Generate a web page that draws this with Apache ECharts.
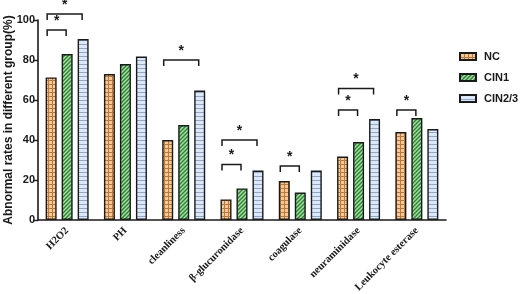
<!DOCTYPE html>
<html>
<head>
<meta charset="utf-8">
<script src="https://cdn.jsdelivr.net/npm/echarts@6/dist/echarts.min.js"></script>
<style>
html,body{margin:0;padding:0;background:#fff;}
#chart{width:520px;height:294px;}
</style>
</head>
<body>
<div id="chart"></div>
<script>
// ---- data ----
var categories = ['H2O2', 'PH', 'cleanliness', 'β-glucuronidase', 'coagulase', 'neuraminidase', 'Leukocyte esterase'];
var seriesNames = ['NC', 'CIN1', 'CIN2/3'];
var ncValues   = [71.3, 73.0, 40.0, 10.3, 19.5, 31.7, 44.0];
var cin1Values = [83.0, 78.0, 47.5, 15.8, 13.7, 39.0, 51.0];
var cin23Values= [90.5, 81.7, 64.7, 24.7, 24.7, 50.5, 45.5];
var yTicks = [0, 20, 40, 60, 80, 100];
// significance brackets: [categoryIndex, fromSeries, toSeries, level]
var brackets = [
  [0, 0, 1, 95],
  [0, 0, 2, 103],
  [2, 0, 2, 80],
  [3, 0, 1, 27.8],
  [3, 0, 2, 40],
  [4, 0, 1, 27],
  [5, 0, 1, 55],
  [5, 0, 2, 65.7],
  [6, 0, 1, 55]
];

// ---- patterns ----
function makePattern(kind) {
  var c = document.createElement('canvas');
  var ctx = c.getContext('2d');
  if (kind === 'grid') {
    c.width = 4; c.height = 4;
    ctx.fillStyle = '#f7c891'; ctx.fillRect(0, 0, 4, 4);
    ctx.fillStyle = '#b87a42';
    ctx.fillRect(0, 0, 4, 1); ctx.fillRect(0, 0, 1, 4);
  } else if (kind === 'diag') {
    c.width = 4; c.height = 4;
    ctx.fillStyle = '#a3e2a0'; ctx.fillRect(0, 0, 4, 4);
    ctx.strokeStyle = '#2f7f36'; ctx.lineWidth = 1.4;
    ctx.beginPath();
    ctx.moveTo(-1, 5); ctx.lineTo(5, -1);
    ctx.moveTo(-1, 1); ctx.lineTo(1, -1);
    ctx.moveTo(3, 5); ctx.lineTo(5, 3);
    ctx.stroke();
  } else {
    c.width = 4; c.height = 4;
    ctx.fillStyle = '#dde8f7'; ctx.fillRect(0, 0, 4, 4);
    ctx.fillStyle = '#8ea7cc';
    ctx.fillRect(0, 0, 4, 1);
  }
  return { image: c, repeat: 'repeat' };
}
var patterns = [makePattern('grid'), makePattern('diag'), makePattern('hline')];
var seriesData = [ncValues, cin1Values, cin23Values];

var BAR_W = 11, BAR_GAP = 5;

var chart = echarts.init(document.getElementById('chart'), null, { renderer: 'canvas' });

var barSeries = seriesNames.map(function (n, i) {
  return {
    name: n,
    type: 'bar',
    data: seriesData[i],
    barWidth: BAR_W,
    barGap: (BAR_GAP / BAR_W * 100) + '%',
    itemStyle: { color: patterns[i], borderColor: '#1a1a1a', borderWidth: 1.4 },
    emphasis: { disabled: true }
  };
});

var bracketSeries = {
  type: 'custom',
  name: 'sig',
  silent: true,
  clip: false,
  z: 5,
  encode: { x: 0, y: 3 },
  data: brackets,
  renderItem: function (params, api) {
    var cat = api.value(0), s1 = api.value(1), s2 = api.value(2), lvl = api.value(3);
    var p = api.coord([cat, lvl]);
    var pDown = api.coord([cat, lvl - 3]);
    var step = BAR_W + BAR_GAP;
    var x1 = p[0] + (s1 - 1) * step - 4;
    var x2 = p[0] + (s2 - 1) * step - 1;
    var y = p[1], y2 = pDown[1];
    return {
      type: 'group',
      children: [
        { type: 'polyline', shape: { points: [[x1, y2], [x1, y], [x2, y], [x2, y2]] },
          style: { stroke: '#1a1a1a', lineWidth: 1.5, fill: null } },
        { type: 'text', x: (x1 + x2) / 2, y: y - 2,
          style: { text: '*', font: 'bold 14px "Liberation Sans", Arial', fill: '#1a1a1a', align: 'center', verticalAlign: 'bottom' } }
      ]
    };
  }
};

chart.setOption({
  animation: false,
  backgroundColor: '#ffffff',
  grid: { left: 38, top: 20, width: 408, height: 200, containLabel: false, outerBoundsMode: 'none' },
  legend: {
    data: seriesNames,
    orient: 'vertical',
    left: 459,
    top: 51,
    padding: 0,
    itemWidth: 16,
    itemHeight: 7,
    itemGap: 10,
    icon: 'rect',
    textStyle: { fontFamily: '"Liberation Sans", Arial', fontWeight: 'bold', fontSize: 11, color: '#1a1a1a', padding: [0, 0, 0, 3] },
    selectedMode: false
  },
  xAxis: {
    type: 'category',
    data: categories,
    boundaryGap: true,
    axisLine: { lineStyle: { color: '#1a1a1a', width: 1.6 } },
    axisTick: { alignWithLabel: true, length: 4, lineStyle: { color: '#1a1a1a', width: 1.4 } },
    axisLabel: { rotate: 45, interval: 0, margin: 9, fontFamily: '"Liberation Serif", "Times New Roman", serif', fontWeight: 'bold', fontSize: 10.5, color: '#1a1a1a' }
  },
  yAxis: {
    type: 'value',
    min: yTicks[0],
    max: yTicks[yTicks.length - 1],
    interval: 20,
    name: 'Abnormal rates in different group(%)',
    nameLocation: 'middle',
    nameGap: 23,
    nameMoveOverlap: false,
    nameTextStyle: { fontFamily: '"Liberation Sans", Arial', fontWeight: 'bold', fontSize: 12, color: '#1a1a1a' },
    axisLine: { show: true, lineStyle: { color: '#1a1a1a', width: 1.6 } },
    axisTick: { show: true, length: 5, lineStyle: { color: '#1a1a1a', width: 1.4 } },
    axisLabel: { margin: 3, fontFamily: '"Liberation Sans", Arial', fontWeight: 'bold', fontSize: 11, color: '#1a1a1a' },
    splitLine: { show: false }
  },
  series: barSeries.concat([bracketSeries])
});
</script>
</body>
</html>
